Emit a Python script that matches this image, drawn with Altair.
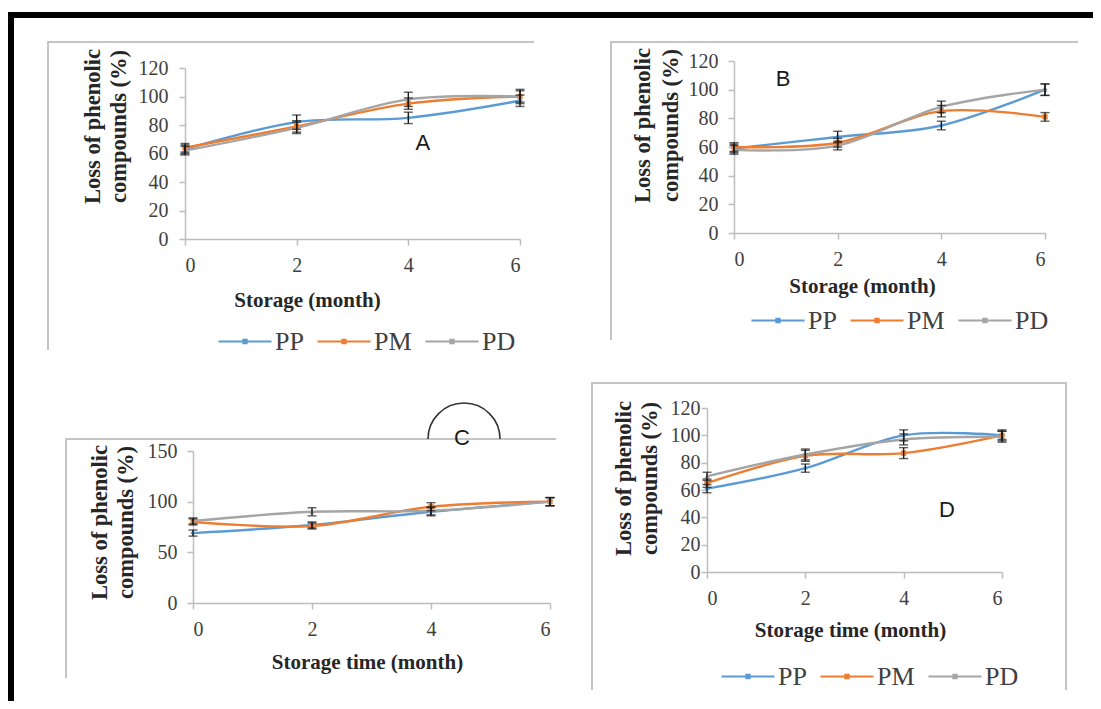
import altair as alt
import pandas as pd

# ---------------- data ----------------
MONTHS = [0, 2, 4, 6]
SERIES = ["PP", "PM", "PD"]
COLORS = ["#5b9bd5", "#ed7d31", "#a5a5a5"]
SHAPES = ["diamond", "square", "triangle-up"]

A_PP = [63, 82, 85, 97]
A_PM = [64, 79, 95, 100]
A_PD = [62, 78, 98, 100]
A_PP_ERR = [3, 5, 4, 4]
A_PM_ERR = [3, 4, 4, 4]
A_PD_ERR = [3, 4, 5, 5]

B_PP = [59, 67, 75, 100]
B_PM = [60, 63, 85, 81]
B_PD = [58, 61, 88, 100]
B_PP_ERR = [3, 4, 3, 4]
B_PM_ERR = [3, 3, 4, 3]
B_PD_ERR = [3, 3, 4, 4]

C_PP = [69, 77, 90, 100]
C_PM = [80, 76, 95, 100]
C_PD = [81, 90, 91, 100]
C_PP_ERR = [3, 3, 4, 4]
C_PM_ERR = [3, 3, 4, 4]
C_PD_ERR = [3, 4, 4, 4]

D_PP = [61, 76, 100, 100]
D_PM = [65, 85, 87, 100]
D_PD = [70, 86, 97, 99]
D_PP_ERR = [3, 3, 4, 3]
D_PM_ERR = [3, 4, 4, 4]
D_PD_ERR = [3, 4, 4, 4]

Y_TITLE = ["Loss of phenolic", "compounds (%)"]
Y_TITLE_C = ["Loss of phenolic", "compounds  (%)"]

SERIF = "Liberation Serif"
SANS = "Liberation Sans"
FRAME = "#c4c4c4"
AXIS = "#bdbdbd"
ONE = pd.DataFrame({"k": [0]})
O = 8            # page margin: page coordinate of the plot origin
W, H = 1085, 693

LEG_SYMBOL = "M-1,0H1M-0.06,-0.06H0.06V0.06H-0.06Z"
ARC_PATH = "M-1,0A1,1 0 0,1 1,0"


def px(v):
    return v - O


def make_df(vals, errs):
    rows = []
    for s, c, sh, v, e in zip(SERIES, COLORS, SHAPES, vals, errs):
        for m, vv, ee in zip(MONTHS, v, e):
            rows.append({"month": m, "series": s, "value": vv,
                         "lo": vv - ee, "hi": vv + ee, "col": c, "shp": sh})
    return pd.DataFrame(rows)


def rect(x1, y1, x2, y2, color):
    return alt.Chart(ONE).mark_rect(color=color, strokeWidth=0).encode(
        x=alt.value(px(x1)), x2=alt.value(px(x2)),
        y=alt.value(px(y1)), y2=alt.value(px(y2)))


def panel(vals, errs, geom, ymax, ystep, xtitle, ytitle, ytitle_c, ytitle_lh, xtitle_c,
          ylabpad, legend_tl, letter, letter_xy, extra=None):
    x0, x1, y0, ytop = geom
    df = make_df(vals, errs)
    xaxis = alt.Axis(orient="bottom", offset=px(y0) - H, values=MONTHS, format="d",
                     labelOverlap=False, title=xtitle,
                     titleX=px(xtitle_c[0]), titleY=xtitle_c[1] - y0,
                     titleAlign="center", titleBaseline="middle", labelPadding=10)
    yaxis = alt.Axis(orient="left", offset=-px(x0),
                     values=list(range(0, ymax + 1, ystep)), format="d",
                     labelOverlap=False, title=ytitle,
                     titleX=ytitle_c[0] - x0, titleY=px(ytitle_c[1]),
                     titleAngle=270, titleAlign="center", titleBaseline="middle",
                     titleLineHeight=ytitle_lh, titleFontSize=22.5, labelPadding=ylabpad)
    xs = alt.Scale(domain=[0, 6], nice=False, range=[px(x0), px(x1)])
    ys = alt.Scale(domain=[0, ymax], nice=False, range=[px(y0), px(ytop)])
    X = alt.X("month:Q", scale=xs, axis=xaxis)
    if legend_tl is None:
        leg = None
    else:
        leg = alt.Legend(orient="none", legendX=px(legend_tl[0]),
                         legendY=px(legend_tl[1]), direction="horizontal",
                         title=None, symbolType=LEG_SYMBOL, symbolSize=2809,
                         symbolStrokeWidth=2.2, labelFont=SERIF, labelFontSize=26,
                         labelColor="#404040", labelOffset=2, columnPadding=9,
                         padding=0)
    base = alt.Chart(df)
    lines = base.mark_line(interpolate="cardinal", strokeWidth=2.4).encode(
        x=X, y=alt.Y("value:Q", scale=ys, axis=yaxis),
        color=alt.Color("series:N", scale=alt.Scale(domain=SERIES, range=COLORS), legend=leg),
        detail="series:N")
    pts = base.mark_point(filled=True, size=28, opacity=1).encode(
        x=X, y=alt.Y("value:Q", scale=ys, axis=yaxis),
        fill=alt.Fill("col:N", scale=None), shape=alt.Shape("shp:N", scale=None))
    bars = base.mark_rule(color="#1a1a1a", strokeWidth=1.4).encode(
        x=X, y=alt.Y("lo:Q", scale=ys, axis=yaxis), y2="hi:Q")
    cap_lo = base.mark_tick(orient="horizontal", size=9, thickness=1.4, color="#1a1a1a").encode(
        x=X, y=alt.Y("lo:Q", scale=ys, axis=yaxis))
    cap_hi = base.mark_tick(orient="horizontal", size=9, thickness=1.4, color="#1a1a1a").encode(
        x=X, y=alt.Y("hi:Q", scale=ys, axis=yaxis))
    txt = alt.Chart(ONE).mark_text(font=SANS, fontSize=22, color="#1a1a1a",
                                   align="center", baseline="middle").encode(
        x=alt.datum(letter_xy[0]), y=alt.datum(letter_xy[1]), text=alt.value(letter))
    layers = [lines, pts, bars, cap_lo, cap_hi, txt]
    if extra is not None:
        layers.append(extra)
    return alt.layer(*layers)


# decorations (page coordinates): outer black border and panel frames
DECOS = [
    (8, 12, 1093, 18, "#000000"), (8, 12, 14, 701, "#000000"),
    (47, 41, 534, 43, FRAME), (47, 41, 49, 350, FRAME),
    (610, 41, 1078, 43, FRAME), (610, 41, 612, 340, FRAME),
    (65, 438, 556, 440, FRAME), (65, 438, 67, 678, FRAME),
    (591, 382, 1066, 384, FRAME), (591, 382, 593, 690, FRAME),
    (1065, 382, 1067, 690, FRAME),
]
deco = alt.layer(*[rect(*d) for d in DECOS])

pA = panel([A_PP, A_PM, A_PD], [A_PP_ERR, A_PM_ERR, A_PD_ERR], (185, 520, 239, 68),
           120, 20, "Storage (month)", Y_TITLE, (92, 126), 26, (307, 300), 11,
           (217, 313.5), "A", (4.26, 67.4))

pB = panel([B_PP, B_PM, B_PD], [B_PP_ERR, B_PM_ERR, B_PD_ERR], (734, 1045, 233, 61),
           120, 20, "Storage (month)", Y_TITLE, (642, 125), 28, (862, 286), 10,
           (750, 292.5), "B", (0.945, 107.4))

arc = alt.Chart(ONE).mark_point(shape=ARC_PATH, size=5184, filled=False, strokeWidth=1.6,
                                color="#333333", opacity=1).encode(
    x=alt.datum(4.555), y=alt.datum(161.8))

pC = panel([C_PP, C_PM, C_PD], [C_PP_ERR, C_PM_ERR, C_PD_ERR], (193, 550, 603, 451),
           150, 50, "Storage time (month)", Y_TITLE_C, (99, 522), 26, (367, 662), 10,
           None, "C", (4.521, 162.8), extra=arc)

pD = panel([D_PP, D_PM, D_PD], [D_PP_ERR, D_PM_ERR, D_PD_ERR], (707, 1002, 572, 408),
           120, 20, "Storage time (month)", Y_TITLE, (623, 478), 26, (850, 630), 1,
           (720, 648.5), "D", (4.88, 45.4))

chart = alt.layer(deco, pA, pB, pC, pD).resolve_scale(
    x="independent", y="independent", color="independent"
).resolve_axis(x="independent", y="independent").resolve_legend(
    color="independent"
).properties(
    width=W, height=H, padding=0, autosize=alt.AutoSizeParams(type="none"),
    background="white"
).configure_view(stroke=None).configure_axis(
    grid=False, domainColor=AXIS, domainWidth=1.5, tickColor=AXIS, tickWidth=1.5,
    tickSize=6, labelFont=SERIF, labelFontSize=20, labelColor="#404040",
    titleFont=SERIF, titleFontSize=21, titleFontWeight="bold", titleColor="#262626"
)

chart.save("out.html", embed_options={"renderer": "svg", "actions": False})
